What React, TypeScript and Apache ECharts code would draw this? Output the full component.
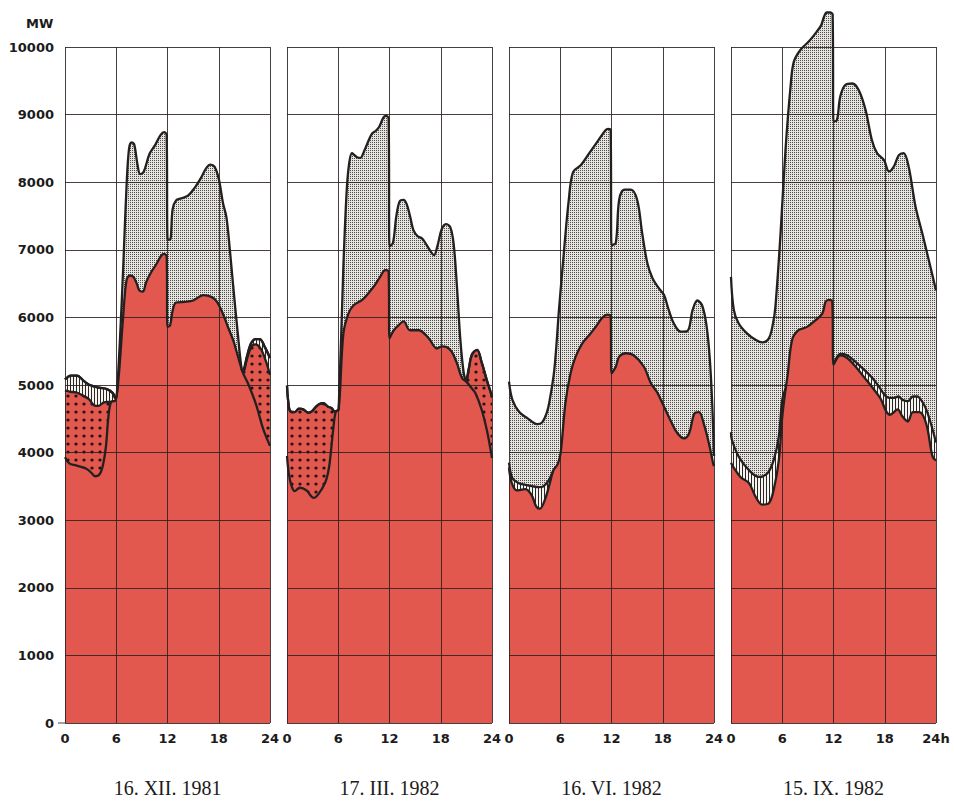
import React, { useEffect, useRef } from "react";
import * as echarts from "echarts";

type Pt = [number, number];

const hourTicks = [0, 6, 12, 18, 24];
const panelTitles = ["16. XII. 1981", "17. III. 1982", "16. VI. 1982", "15. IX. 1982"];

// ---------- Panel 1 : 16. XII. 1981 ----------
const p1Total: Pt[] = [
  [0, 5080], [0.7, 5140], [1.4, 5140], [2.2, 5060], [2.9, 5000], [4.0, 4960], [4.9, 4940], [5.6, 4880], [5.9, 4800],
  [6.05, 4830], [6.45, 5710], [6.85, 6850], [7.2, 7930], [7.5, 8500], [7.8, 8590], [8.1, 8560], [8.5, 8250], [8.8, 8120],
  [9.2, 8150], [9.9, 8420], [10.6, 8560], [11.2, 8700], [11.6, 8740], [11.9, 8700], [12.0, 7160], [12.3, 7150],
  [12.6, 7600], [13.0, 7730], [13.6, 7760], [14.4, 7800], [15.2, 7920], [15.9, 8060], [16.5, 8200], [17.0, 8260],
  [17.5, 8230], [18.0, 8050], [18.5, 7690], [18.9, 7480], [19.3, 7000], [19.7, 6450], [20.2, 5800], [20.7, 5220],
  [20.9, 5200], [21.3, 5420], [21.8, 5620], [22.3, 5680], [22.8, 5680], [23.4, 5560], [24, 5400],
];
const p1HatchRanges: [number, number][] = [[0, 5.9], [20.9, 24]];
const p1Dots: Pt[][] = [
  [[0, 4920], [0.6, 4900], [1.3, 4890], [2.0, 4850], [2.8, 4790], [3.4, 4700], [3.9, 4690], [4.5, 4740], [5.0, 4750], [5.4, 4750]],
  [[20.9, 5190], [21.3, 5380], [21.8, 5560], [22.3, 5600], [22.9, 5540], [23.5, 5360], [24, 5150]],
];
const p1Base: Pt[] = [
  [0, 3930], [0.5, 3840], [1.3, 3810], [2.5, 3760], [3.1, 3700], [3.5, 3650], [4.1, 3690], [4.5, 3850], [4.8, 4100],
  [5.1, 4550], [5.4, 4750], [5.9, 4770], [6.25, 5070], [6.8, 6000], [7.2, 6550], [7.6, 6620], [8.0, 6600], [8.4, 6500],
  [8.7, 6400], [9.1, 6380], [9.5, 6520], [10.0, 6650], [10.7, 6790], [11.3, 6920], [11.6, 6940], [11.9, 6900],
  [12.0, 5860], [12.3, 5880], [12.6, 6100], [13.0, 6220], [14.0, 6230], [15.0, 6250], [16.2, 6330], [17.2, 6300],
  [17.8, 6230], [18.5, 6050], [19.1, 5850], [19.7, 5660], [20.3, 5400], [20.8, 5190], [21.5, 5000], [22.4, 4700],
  [23.2, 4350], [24, 4100],
];

// ---------- Panel 2 : 17. III. 1982 ----------
const p2Total: Pt[] = [
  [0, 4990], [0.15, 4750], [0.4, 4610], [0.9, 4600], [1.4, 4650], [1.9, 4640], [2.5, 4590], [2.9, 4610], [3.4, 4680],
  [3.8, 4720], [4.25, 4730], [4.8, 4680], [5.2, 4660], [5.6, 4610], [5.9, 4620], [6.05, 4640], [6.6, 6750], [7.0, 7900],
  [7.3, 8300], [7.6, 8430], [7.9, 8400], [8.2, 8370], [8.6, 8360], [9.0, 8450], [9.4, 8570], [9.95, 8720], [10.4, 8760],
  [10.8, 8820], [11.3, 8960], [11.6, 8980], [11.9, 8940], [12.0, 7050], [12.4, 7100], [12.8, 7500], [13.2, 7720],
  [13.65, 7740], [14.0, 7680], [14.4, 7500], [14.8, 7290], [15.3, 7200], [15.8, 7170], [16.3, 7080], [16.8, 6980],
  [17.2, 6920], [17.6, 7050], [18.1, 7300], [18.6, 7380], [19.1, 7340], [19.5, 7100], [19.9, 6450], [20.3, 5660],
  [20.7, 5170], [21.0, 5060], [21.3, 5250], [21.65, 5450], [22.25, 5520], [22.8, 5330], [23.4, 5070], [23.9, 4870],
  [24, 4820],
];
const p2DotRanges: [number, number][] = [[0, 5.9], [21.0, 24]];
const p2Base: Pt[] = [
  [0, 3950], [0.2, 3700], [0.5, 3520], [0.9, 3430], [1.5, 3480], [2.3, 3440], [2.8, 3360], [3.1, 3330], [3.7, 3390],
  [4.45, 3550], [4.8, 3700], [5.0, 3850], [5.4, 4330], [5.7, 4600], [6.05, 4640], [6.6, 5760], [7.2, 6060], [7.8, 6180],
  [8.8, 6260], [9.55, 6360], [10.3, 6480], [10.9, 6600], [11.5, 6700], [11.9, 6680], [12.0, 5690], [12.5, 5810],
  [13.1, 5890], [13.65, 5940], [14.4, 5810], [15.4, 5810], [16.6, 5690], [17.55, 5540], [18.15, 5570], [18.7, 5560],
  [19.3, 5490], [19.9, 5320], [20.5, 5100], [21.0, 5050], [21.5, 4970], [22.05, 4880], [22.8, 4630], [23.4, 4330],
  [23.9, 4000], [24, 3920],
];

// ---------- Panel 3 : 16. VI. 1982 ----------
const p3Total: Pt[] = [
  [0, 5050], [0.4, 4780], [1.2, 4600], [2.15, 4510], [3.3, 4420], [3.9, 4450], [4.4, 4580], [4.7, 4730], [5.3, 5220],
  [5.85, 6110], [6.45, 7000], [7.0, 7740], [7.5, 8150], [8.4, 8250], [9.4, 8430], [10.35, 8600], [11.3, 8770],
  [11.6, 8790], [11.9, 8770], [12.0, 7070], [12.5, 7100], [12.9, 7740], [13.5, 7890], [14.25, 7890], [15.0, 7740],
  [15.6, 7240], [16.2, 6800], [16.8, 6580], [17.55, 6430], [18.15, 6330], [18.7, 6110], [19.3, 5910], [20.1, 5790],
  [20.9, 5800], [21.5, 6110], [22.05, 6250], [22.6, 6180], [23.1, 5900], [23.5, 5400], [23.8, 4700], [24, 3950],
];
const p3Hatch: Pt[][] = [
  [[0, 3850], [0.4, 3620], [1.1, 3550], [1.7, 3530], [2.85, 3500], [3.5, 3490], [4.0, 3500], [4.6, 3580], [5.0, 3680], [5.2, 3740]],
];
const p3Base: Pt[] = [
  [0, 3780], [0.3, 3560], [0.9, 3440], [1.9, 3460], [2.65, 3370], [3.2, 3200], [3.6, 3170], [4.2, 3300], [4.8, 3560],
  [5.2, 3740], [5.7, 3830], [6.05, 4000], [6.6, 4730], [7.2, 5170], [7.8, 5420], [8.6, 5620], [9.4, 5740], [10.15, 5860],
  [10.9, 5990], [11.5, 6040], [11.9, 6030], [12.0, 5170], [12.5, 5270], [12.9, 5420], [13.7, 5470], [14.6, 5440],
  [15.8, 5270], [16.6, 5030], [17.4, 4880], [18.15, 4680], [18.9, 4480], [19.7, 4290], [20.5, 4210], [21.1, 4290],
  [21.7, 4580], [22.25, 4600], [22.8, 4430], [23.4, 4140], [23.9, 3840], [24, 3800],
];

// ---------- Panel 4 : 15. IX. 1982 ----------
const p4Total: Pt[] = [
  [0, 6600], [0.33, 6110], [0.9, 5910], [1.9, 5760], [2.87, 5670], [3.65, 5630], [4.43, 5690], [4.9, 5900], [5.2, 6160],
  [5.8, 7240], [6.38, 8480], [6.97, 9410], [7.35, 9780], [8.14, 9960], [9.1, 10080], [10.0, 10220], [10.55, 10320],
  [10.9, 10450], [11.2, 10510], [11.6, 10510], [11.9, 10480], [12.0, 8900], [12.4, 8920], [12.8, 9270], [13.4, 9440],
  [14.2, 9460], [14.96, 9360], [15.75, 9070], [16.5, 8620], [17.1, 8430], [17.9, 8330], [18.5, 8160], [19.06, 8230],
  [19.65, 8400], [20.2, 8430], [20.8, 8230], [21.6, 7640], [22.4, 7240], [23.15, 6850], [24, 6400],
];
const p4Hatch: Pt[][] = [
  [[0, 4300], [0.1, 4190], [0.9, 3940], [2.1, 3740], [3.25, 3640], [4.24, 3690], [5.0, 3890], [5.6, 4240], [6.0, 4780], [6.4, 4950]],
  [[12.0, 5300], [12.43, 5420], [12.8, 5460], [13.6, 5440], [14.6, 5340], [15.55, 5230], [16.5, 5110], [17.3, 4980],
   [18.0, 4850], [18.5, 4810], [19.1, 4810], [19.6, 4830], [20.1, 4780], [20.7, 4760], [21.3, 4830], [21.8, 4830],
   [22.4, 4750], [22.85, 4640], [23.4, 4430], [24, 4150]],
];
const p4Base: Pt[] = [
  [0, 3850], [0.3, 3780], [1.1, 3640], [2.1, 3550], [2.87, 3350], [3.65, 3230], [4.43, 3250], [5.0, 3450], [5.6, 3890],
  [6.0, 4530], [6.4, 4950], [6.6, 5120], [7.16, 5670], [7.9, 5810], [8.9, 5860], [9.9, 5960], [10.7, 6060], [11.07, 6230],
  [11.45, 6260], [11.85, 6240], [12.0, 5300], [12.43, 5400], [12.8, 5440], [13.6, 5400], [14.6, 5270], [15.55, 5120],
  [16.5, 4970], [17.5, 4800], [18.17, 4610], [18.6, 4560], [19.0, 4590], [19.5, 4640], [20.1, 4530], [20.7, 4460],
  [21.3, 4600], [22.07, 4600], [22.85, 4430], [23.6, 3940], [24, 3880],
];

const RED = "#e2584f";
const INK = "#242020";
const GRID = "rgba(40,30,30,0.85)";

function pick(arr: Pt[], r: [number, number]): Pt[] {
  return arr.filter((p) => p[0] >= r[0] - 1e-9 && p[0] <= r[1] + 1e-9);
}

function makePattern(kind: "stipple" | "dots" | "hatch") {
  const c = document.createElement("canvas");
  const ctx = c.getContext("2d")!;
  if (kind === "stipple") {
    c.width = 2; c.height = 2;
    ctx.fillStyle = "#e6e4e0"; ctx.fillRect(0, 0, 2, 2);
    ctx.fillStyle = "#4e4b49"; ctx.fillRect(0, 0, 1, 1);
  } else if (kind === "dots") {
    c.width = 8; c.height = 8;
    ctx.fillStyle = RED; ctx.fillRect(0, 0, 8, 8);
    ctx.fillStyle = "#1c1212";
    ctx.beginPath(); ctx.arc(4, 4, 1.6, 0, Math.PI * 2); ctx.fill();
  } else {
    c.width = 3; c.height = 3;
    ctx.fillStyle = "#f6f4ef"; ctx.fillRect(0, 0, 3, 3);
    ctx.fillStyle = "#2a2626"; ctx.fillRect(1, 0, 1, 3);
  }
  return { image: c, repeat: "repeat" };
}

export default function App() {
  const ref = useRef<HTMLDivElement>(null);

  useEffect(() => {
    document.body.style.margin = "0";
    if (!ref.current) return;
    const chart = echarts.init(ref.current, undefined, { renderer: "svg" });

    const stipple = makePattern("stipple");
    const dots = makePattern("dots");
    const hatch = makePattern("hatch");

    const panels = [
      { total: p1Total, hatch: p1HatchRanges.map((r) => pick(p1Total, r)), dots: p1Dots, base: p1Base },
      { total: p2Total, hatch: [] as Pt[][], dots: p2DotRanges.map((r) => pick(p2Total, r)), base: p2Base },
      { total: p3Total, hatch: p3Hatch, dots: [] as Pt[][], base: p3Base },
      { total: p4Total, hatch: p4Hatch, dots: [] as Pt[][], base: p4Base },
    ];

    const grids: any[] = [];
    const xAxes: any[] = [];
    const yAxes: any[] = [];
    const series: any[] = [];
    const graphics: any[] = [];

    const labelFont = { fontFamily: "DejaVu Sans", fontWeight: "bold", fontSize: 13, color: "#1c1a1a" };

    panels.forEach((p, i) => {
      const left = 65 + 222 * i;
      grids.push({ left, top: 47, width: 205, height: 676, show: false });
      xAxes.push({
        gridIndex: i, type: "value", min: hourTicks[0], max: hourTicks[hourTicks.length - 1], interval: 6, z: 5,
        axisLine: { show: false }, axisTick: { show: false },
        splitLine: { show: true, lineStyle: { color: GRID, width: 1 } },
        axisLabel: {
          ...labelFont, margin: 9, showMinLabel: true, showMaxLabel: true,
          formatter: (v: number) => (i === 3 && v === 24 ? "24h" : String(v)),
        },
      });
      yAxes.push({
        gridIndex: i, type: "value", min: 0, max: 10000, interval: 1000, z: 5,
        axisLine: { show: false }, axisTick: { show: false },
        splitLine: { show: true, lineStyle: { color: GRID, width: 1 } },
        axisLabel: { ...labelFont, show: i === 0, margin: 11, formatter: (v: number) => String(v) },
      });

      const layers = [
        { segs: [p.total], fill: stipple },
        { segs: p.hatch, fill: hatch },
        { segs: p.dots, fill: dots },
        { segs: [p.base], fill: RED },
      ];
      const common = {
        type: "line", xAxisIndex: i, yAxisIndex: i, smooth: 0.35, symbol: "none", showSymbol: false,
        clip: false, silent: true, animation: false,
      };
      layers.forEach((layer, li) => {
        layer.segs.forEach((seg) => {
          series.push({
            ...common, z: 1 + li, data: seg,
            lineStyle: { width: 0, opacity: 0 },
            areaStyle: { color: layer.fill as any, opacity: 1 },
          });
        });
      });
      layers.forEach((layer) => {
        layer.segs.forEach((seg) => {
          series.push({ ...common, z: 6, data: seg, lineStyle: { color: INK, width: 2.3 } });
        });
      });

      graphics.push({
        type: "text", x: left + 102.5, y: 788, z: 10,
        style: {
          text: panelTitles[i], font: '20px "Liberation Serif"', fill: "#1c1a1a",
          align: "center", verticalAlign: "middle", textAlign: "center", textVerticalAlign: "middle",
        },
      });
    });

    graphics.push({
      type: "text", x: 26, y: 23, z: 10,
      style: { text: "MW", font: 'bold 13px "DejaVu Sans"', fill: "#1c1a1a", verticalAlign: "middle", textVerticalAlign: "middle" },
    });
    graphics.push({
      type: "line", z: 10, shape: { x1: 58, y1: 723, x2: 65, y2: 723 }, style: { stroke: GRID, lineWidth: 1 },
    });

    chart.setOption({
      animation: false,
      backgroundColor: "#ffffff",
      grid: grids,
      xAxis: xAxes,
      yAxis: yAxes,
      series,
      graphic: graphics,
    });

    return () => chart.dispose();
  }, []);

  return <div ref={ref} style={{ width: 954, height: 801 }} />;
}
